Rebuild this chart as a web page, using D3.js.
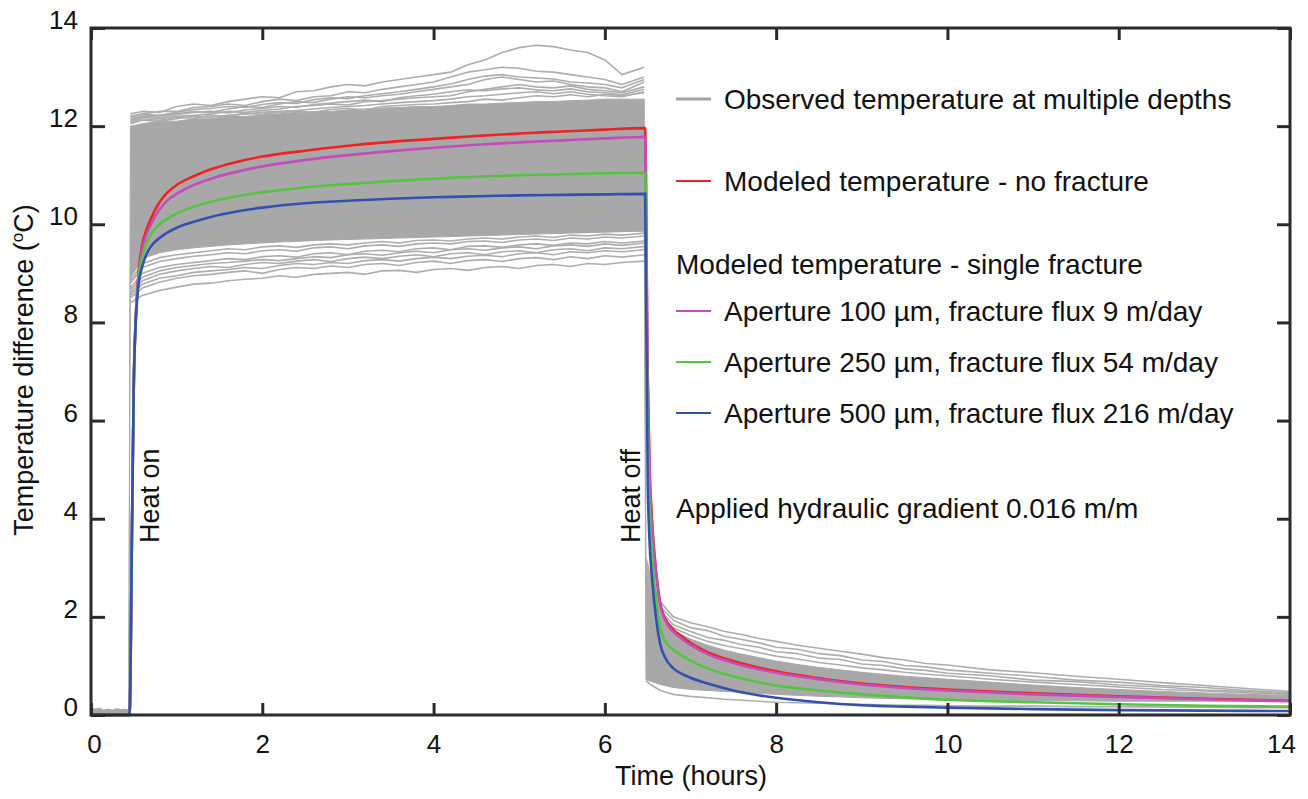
<!DOCTYPE html>
<html lang="en">
<head>
<meta charset="UTF-8">
<title>Temperature difference</title>
<script src="https://cdn.jsdelivr.net/npm/d3@7"></script>
<style>
    body{margin:0;background:#fff;}
    text{font-family:"Liberation Sans",Arial,sans-serif;fill:#111;}
</style>
</head>
<body>
<svg width="1308" height="799"></svg>
<script>
    // ---------- data (hours, degC) ----------
    var xTicks = [0,2,4,6,8,10,12,14];
    var yTicks = [0,2,4,6,8,10,12,14];

    // modeled curves
    var modelT = [0,0.45,0.48,0.5,0.52,0.55,0.6,0.65,0.7,0.8,0.9,1.0,1.2,1.4,1.7,2.0,2.5,3.0,3.5,4.0,4.5,5.0,5.5,6.0,6.47,
                  6.5,6.52,6.55,6.6,6.65,6.7,6.8,6.9,7.0,7.2,7.5,8.0,8.5,9.0,9.5,10,11,12,13,14];
    var noFracture = [0,0,4.0,6.8,8.0,8.9,9.6,9.9,10.12,10.45,10.66,10.8,10.98,11.12,11.27,11.38,11.5,11.6,11.68,11.74,11.8,11.85,11.89,11.93,11.96,
                  7.0,5.2,4.0,2.9,2.25,1.98,1.74,1.6,1.47,1.28,1.1,0.89,0.75,0.64,0.57,0.52,0.44,0.38,0.33,0.29];
    var ap100 = [0,0,4.0,6.8,8.0,8.85,9.5,9.8,10.0,10.3,10.5,10.62,10.8,10.93,11.07,11.18,11.31,11.41,11.49,11.56,11.62,11.67,11.71,11.75,11.78,
                  6.9,5.1,3.9,2.85,2.2,1.94,1.7,1.55,1.43,1.24,1.06,0.86,0.73,0.62,0.55,0.5,0.42,0.37,0.32,0.28];
    var ap250 = [0,0,4.0,6.8,7.95,8.8,9.35,9.62,9.8,10.0,10.12,10.22,10.36,10.46,10.57,10.65,10.75,10.82,10.88,10.93,10.97,11.0,11.02,11.04,11.05,
                  5.8,4.3,3.3,2.35,1.76,1.52,1.33,1.21,1.11,0.95,0.79,0.6,0.5,0.42,0.36,0.31,0.26,0.22,0.19,0.17];
    var ap500 = [0,0,4.0,6.8,7.9,8.7,9.15,9.4,9.55,9.72,9.84,9.93,10.05,10.15,10.26,10.34,10.43,10.48,10.52,10.55,10.57,10.59,10.6,10.61,10.62,
                  4.8,3.6,2.8,1.95,1.42,1.18,0.95,0.84,0.76,0.64,0.5,0.35,0.26,0.2,0.17,0.15,0.12,0.1,0.09,0.08];

    // observed temperature: dense band + individual outer traces
    var preT   = [0,0.05,0.1,0.15,0.2,0.25,0.3,0.35,0.4,0.44];
    var preTop = [0.15,0.12,0.14,0.1,0.12,0.1,0.13,0.11,0.12,0.1];
    var preBot = [0,0,0,0,0,0,0,0,0,0];

    var heatT   = [0.46,0.6,0.8,1.0,1.2,1.4,1.6,1.8,2.0,2.2,2.4,2.6,2.8,3.0,3.2,3.4,3.6,3.8,4.0,4.2,4.4,4.6,4.8,5.0,5.2,5.4,5.6,5.8,6.0,6.2,6.46];
    var heatTop = [12.0,12.05,12.1,12.1,12.15,12.15,12.2,12.2,12.22,12.25,12.28,12.3,12.3,12.33,12.35,12.37,12.38,12.4,12.4,12.42,12.45,12.45,12.47,12.48,12.5,12.5,12.52,12.53,12.55,12.55,12.55];
    var heatBot = [8.9,9.3,9.42,9.48,9.52,9.55,9.58,9.6,9.62,9.64,9.65,9.67,9.68,9.69,9.7,9.71,9.72,9.73,9.74,9.75,9.76,9.77,9.78,9.79,9.8,9.81,9.82,9.83,9.84,9.85,9.86];
    var heatUpper = [
        [12.25,12.3,12.28,12.4,12.45,12.42,12.5,12.55,12.6,12.58,12.7,12.72,12.8,12.85,12.82,12.9,12.95,13.0,13.05,13.1,13.25,13.35,13.5,13.6,13.65,13.62,13.55,13.5,13.35,13.05,13.2],
        [12.2,12.25,12.3,12.3,12.38,12.4,12.45,12.42,12.5,12.55,12.52,12.6,12.62,12.7,12.68,12.75,12.8,12.85,12.9,13.0,13.1,13.15,13.2,13.18,13.12,13.1,13.05,13.0,12.95,12.85,13.0],
        [12.15,12.2,12.22,12.25,12.3,12.28,12.35,12.4,12.38,12.45,12.5,12.48,12.55,12.6,12.58,12.62,12.65,12.7,12.75,12.8,12.85,12.95,13.0,12.95,12.9,12.92,12.85,12.8,12.78,12.7,12.9],
        [12.1,12.18,12.15,12.2,12.22,12.25,12.3,12.28,12.32,12.35,12.4,12.42,12.45,12.43,12.5,12.52,12.55,12.58,12.6,12.62,12.7,12.75,12.8,12.85,12.8,12.78,12.82,12.75,12.72,12.68,12.8],
        [12.05,12.12,12.1,12.15,12.2,12.18,12.22,12.25,12.28,12.3,12.32,12.35,12.38,12.4,12.42,12.45,12.48,12.5,12.52,12.55,12.6,12.62,12.65,12.68,12.7,12.66,12.7,12.65,12.62,12.6,12.7],
        [12.08,12.15,12.12,12.18,12.16,12.22,12.2,12.26,12.24,12.28,12.3,12.28,12.34,12.36,12.33,12.4,12.42,12.44,12.45,12.48,12.5,12.55,12.53,12.58,12.62,12.6,12.64,12.6,12.65,12.62,12.68],
        [12.12,12.2,12.18,12.24,12.28,12.3,12.27,12.33,12.36,12.4,12.38,12.44,12.47,12.5,12.53,12.5,12.58,12.62,12.65,12.7,12.74,12.72,12.76,12.78,12.74,12.72,12.76,12.7,12.68,12.64,12.75],
        [12.18,12.24,12.22,12.28,12.34,12.36,12.4,12.38,12.44,12.48,12.46,12.54,12.58,12.56,12.62,12.66,12.7,12.75,12.8,12.86,12.95,13.02,13.05,13.0,12.98,12.96,12.9,12.88,12.85,12.78,12.95]
    ];
    var heatLower = [
        [8.4,8.55,8.65,8.72,8.78,8.8,8.85,8.88,8.9,8.95,8.92,8.98,9.0,9.02,8.98,9.05,9.06,9.02,9.08,9.1,9.06,9.12,9.14,9.1,9.16,9.18,9.14,9.2,9.18,9.22,9.25],
        [8.5,8.7,8.82,8.9,8.95,8.98,9.02,9.05,9.0,9.08,9.12,9.1,9.15,9.12,9.18,9.2,9.16,9.22,9.25,9.2,9.26,9.28,9.24,9.3,9.32,9.28,9.34,9.3,9.36,9.33,9.38],
        [8.55,8.78,8.9,8.95,9.02,9.05,9.08,9.12,9.1,9.16,9.2,9.18,9.22,9.2,9.26,9.28,9.25,9.3,9.33,9.3,9.35,9.37,9.34,9.4,9.42,9.38,9.44,9.42,9.46,9.44,9.48],
        [8.6,8.85,8.98,9.05,9.1,9.14,9.12,9.18,9.22,9.2,9.25,9.28,9.24,9.3,9.33,9.3,9.35,9.38,9.34,9.4,9.42,9.38,9.44,9.46,9.42,9.48,9.5,9.46,9.52,9.5,9.55],
        [8.65,8.92,9.05,9.12,9.16,9.2,9.22,9.25,9.28,9.26,9.3,9.34,9.32,9.38,9.4,9.37,9.42,9.45,9.42,9.48,9.5,9.47,9.52,9.54,9.5,9.56,9.58,9.55,9.6,9.57,9.62],
        [8.7,9.0,9.12,9.18,9.22,9.26,9.3,9.28,9.34,9.36,9.33,9.4,9.42,9.38,9.45,9.47,9.44,9.5,9.52,9.48,9.55,9.56,9.53,9.58,9.6,9.57,9.62,9.6,9.65,9.62,9.66],
        [8.8,9.12,9.24,9.3,9.35,9.38,9.42,9.4,9.46,9.48,9.45,9.52,9.54,9.5,9.56,9.58,9.55,9.6,9.62,9.6,9.65,9.66,9.63,9.68,9.7,9.67,9.72,9.7,9.74,9.72,9.76],
        [8.85,9.2,9.32,9.38,9.42,9.46,9.5,9.48,9.54,9.56,9.53,9.58,9.6,9.58,9.62,9.65,9.62,9.67,9.68,9.66,9.7,9.72,9.7,9.74,9.76,9.73,9.78,9.76,9.8,9.78,9.82]
    ];

    var coolT   = [6.48,6.55,6.65,6.8,7.0,7.2,7.4,7.6,7.8,8.0,8.25,8.5,8.75,9.0,9.25,9.5,9.75,10.0,10.5,11.0,11.5,12.0,12.5,13.0,13.5,14.0];
    var coolTop = [3.0,2.5,2.05,1.72,1.55,1.42,1.32,1.24,1.17,1.1,1.03,0.97,0.92,0.87,0.83,0.79,0.76,0.73,0.67,0.61,0.56,0.52,0.48,0.45,0.42,0.4];
    var coolBot = [0.72,0.68,0.62,0.56,0.52,0.5,0.48,0.46,0.44,0.42,0.4,0.38,0.37,0.35,0.34,0.33,0.32,0.31,0.3,0.29,0.29,0.28,0.28,0.28,0.28,0.28];
    var coolLines = [
        [3.2,2.7,2.3,2.0,1.88,1.8,1.7,1.64,1.56,1.5,1.42,1.36,1.3,1.24,1.17,1.12,1.05,1.02,0.92,0.86,0.79,0.73,0.66,0.6,0.54,0.48],
        [3.1,2.6,2.2,1.93,1.78,1.72,1.6,1.54,1.47,1.38,1.34,1.25,1.21,1.12,1.09,1.01,0.98,0.92,0.85,0.79,0.71,0.67,0.6,0.56,0.5,0.45],
        [3.0,2.55,2.12,1.84,1.7,1.58,1.52,1.43,1.38,1.29,1.25,1.16,1.13,1.04,1.01,0.94,0.91,0.85,0.8,0.71,0.68,0.61,0.57,0.51,0.48,0.43],
        [2.9,2.45,2.02,1.78,1.62,1.5,1.41,1.35,1.27,1.2,1.14,1.07,1.02,0.96,0.92,0.87,0.83,0.8,0.73,0.67,0.62,0.57,0.52,0.49,0.45,0.42],
        [0.7,0.6,0.5,0.42,0.38,0.35,0.32,0.3,0.28,0.26,0.25,0.24,0.23,0.22,0.21,0.2,0.2,0.19,0.18,0.18,0.17,0.17,0.16,0.16,0.15,0.15]
    ];

    var legendRows = [
        {label:"Observed temperature at multiple depths", color:"#a3a3a3", row:99,  line:true, x:724},
        {label:"Modeled temperature - no fracture",       color:"#ee2224", row:181, line:true, x:724},
        {label:"Modeled temperature - single fracture",   color:null,      row:264, line:false, x:676},
        {label:"Aperture 100 \u00b5m, fracture flux 9 m/day",   color:"#c64bbd", row:311, line:true, x:724},
        {label:"Aperture 250 \u00b5m, fracture flux 54 m/day",  color:"#55c443", row:362, line:true, x:724},
        {label:"Aperture 500 \u00b5m, fracture flux 216 m/day", color:"#3450ae", row:413, line:true, x:724},
        {label:"Applied hydraulic gradient 0.016 m/m",    color:null,      row:508, line:false, x:676}
    ];

    // ---------- scales ----------
    var svg = d3.select('svg');
    var x = d3.scaleLinear().domain([0,14]).range([91,1290]);
    var y = d3.scaleLinear().domain([0,14]).range([715,28]);
    var gray = '#a8a8a8';

    // observed dense band
    var bandT = preT.concat(heatT, coolT),
        bandTop = preTop.concat(heatTop, coolTop),
        bandBot = preBot.concat(heatBot, coolBot);
    var band = bandT.map(function(t,i){ return {t:t, lo:bandBot[i], hi:bandTop[i]}; });

    svg.append('path')
        .datum(band)
        .attr('fill', gray)
        .attr('stroke', gray)
        .attr('stroke-width', 1)
        .attr('d', d3.area().x(function(d){return x(d.t);}).y0(function(d){return y(d.lo);}).y1(function(d){return y(d.hi);}));

    var obsLine = d3.line().x(function(d){return x(d[0]);}).y(function(d){return y(d[1]);});
    var traces = [];
    heatUpper.concat(heatLower).forEach(function(vals){
        traces.push(heatT.map(function(t,i){ return [t, vals[i]]; }));
    });
    coolLines.forEach(function(vals){
        traces.push(coolT.map(function(t,i){ return [t, vals[i]]; }));
    });
    svg.append('g').selectAll('path')
        .data(traces)
        .enter().append('path')
        .attr('fill','none')
        .attr('stroke', '#adadad')
        .attr('stroke-width', 1.6)
        .attr('stroke-linejoin', 'round')
        .attr('d', obsLine);

    // modeled
    var models = [
        {vals:noFracture, color:'#ee2224'},
        {vals:ap100, color:'#c64bbd'},
        {vals:ap250, color:'#55c443'},
        {vals:ap500, color:'#3450ae'}
    ];
    var modelLine = d3.line()
        .x(function(d){return x(d[0]);})
        .y(function(d){return y(d[1]);})
        .curve(d3.curveMonotoneX);
    svg.append('g').selectAll('path')
        .data(models)
        .enter().append('path')
        .attr('fill','none')
        .attr('stroke', function(d){return d.color;})
        .attr('stroke-width', 2.6)
        .attr('d', function(d){ return modelLine(modelT.map(function(t,i){ return [t, d.vals[i]]; })); });

    // ---------- axes ----------
    var axisColor = '#2b2b2b';
    function styleAxis(g){
        g.select('.domain').remove();
        g.selectAll('.tick line').attr('stroke', axisColor).attr('stroke-width', 3);
        g.selectAll('.tick text').attr('font-size', 26).attr('fill', '#111')
            .style('font-family','"Liberation Sans",Arial,sans-serif');
    }
    svg.append('g')
        .attr('transform','translate(0,715)')
        .call(d3.axisBottom(x).tickValues(xTicks).tickSize(-12).tickPadding(20))
        .call(styleAxis)
        .selectAll('.tick text')
        .attr('dx', function(d){ return d === 0 ? 3 : (d === 14 ? -9 : 0); });
    svg.append('g')
        .attr('transform','translate(0,28)')
        .call(d3.axisTop(x).tickValues(xTicks).tickSize(-12).tickFormat(''))
        .call(styleAxis);
    svg.append('g')
        .attr('transform','translate(91,0)')
        .call(d3.axisLeft(y).tickValues(yTicks).tickSize(-14).tickPadding(13))
        .call(styleAxis)
        .selectAll('.tick text')
        .attr('dy','0.02em');
    svg.append('g')
        .attr('transform','translate(1290,0)')
        .call(d3.axisRight(y).tickValues(yTicks).tickSize(-13).tickFormat(''))
        .call(styleAxis);

    svg.append('rect')
        .attr('x', x(0)).attr('y', y(14))
        .attr('width', x(14) - x(0)).attr('height', y(0) - y(14))
        .attr('fill','none').attr('stroke', axisColor).attr('stroke-width', 3);

    // axis titles
    svg.append('text')
        .attr('x', 691).attr('y', 785)
        .attr('text-anchor','middle').attr('font-size', 27)
        .text('Time (hours)');
    var yt = svg.append('text')
        .attr('transform','translate(33,370) rotate(-90)')
        .attr('text-anchor','middle').attr('font-size', 27);
    yt.append('tspan').text('Temperature difference (');
    yt.append('tspan').attr('font-size', 17).attr('dy', -10).text('o');
    yt.append('tspan').attr('dy', 10).text('C)');

    // annotations
    svg.append('text')
        .attr('transform','translate(159,543) rotate(-90)')
        .attr('font-size', 27).text('Heat on');
    svg.append('text')
        .attr('transform','translate(640,543) rotate(-90)')
        .attr('font-size', 27).text('Heat off');

    // legend
    var legend = svg.append('g').selectAll('g')
        .data(legendRows)
        .enter().append('g')
        .attr('transform', function(d){ return 'translate(0,' + d.row + ')'; });
    legend.filter(function(d){return d.line;})
        .append('line')
        .attr('x1', 676).attr('x2', 711)
        .attr('stroke', function(d){return d.color;})
        .attr('stroke-width', function(d,i){ return i === 0 ? 3 : 2; });
    legend.append('text')
        .attr('x', function(d){return d.x;})
        .attr('dy', '0.36em')
        .attr('font-size', 28)
        .text(function(d){return d.label;});
</script>
</body>
</html>
